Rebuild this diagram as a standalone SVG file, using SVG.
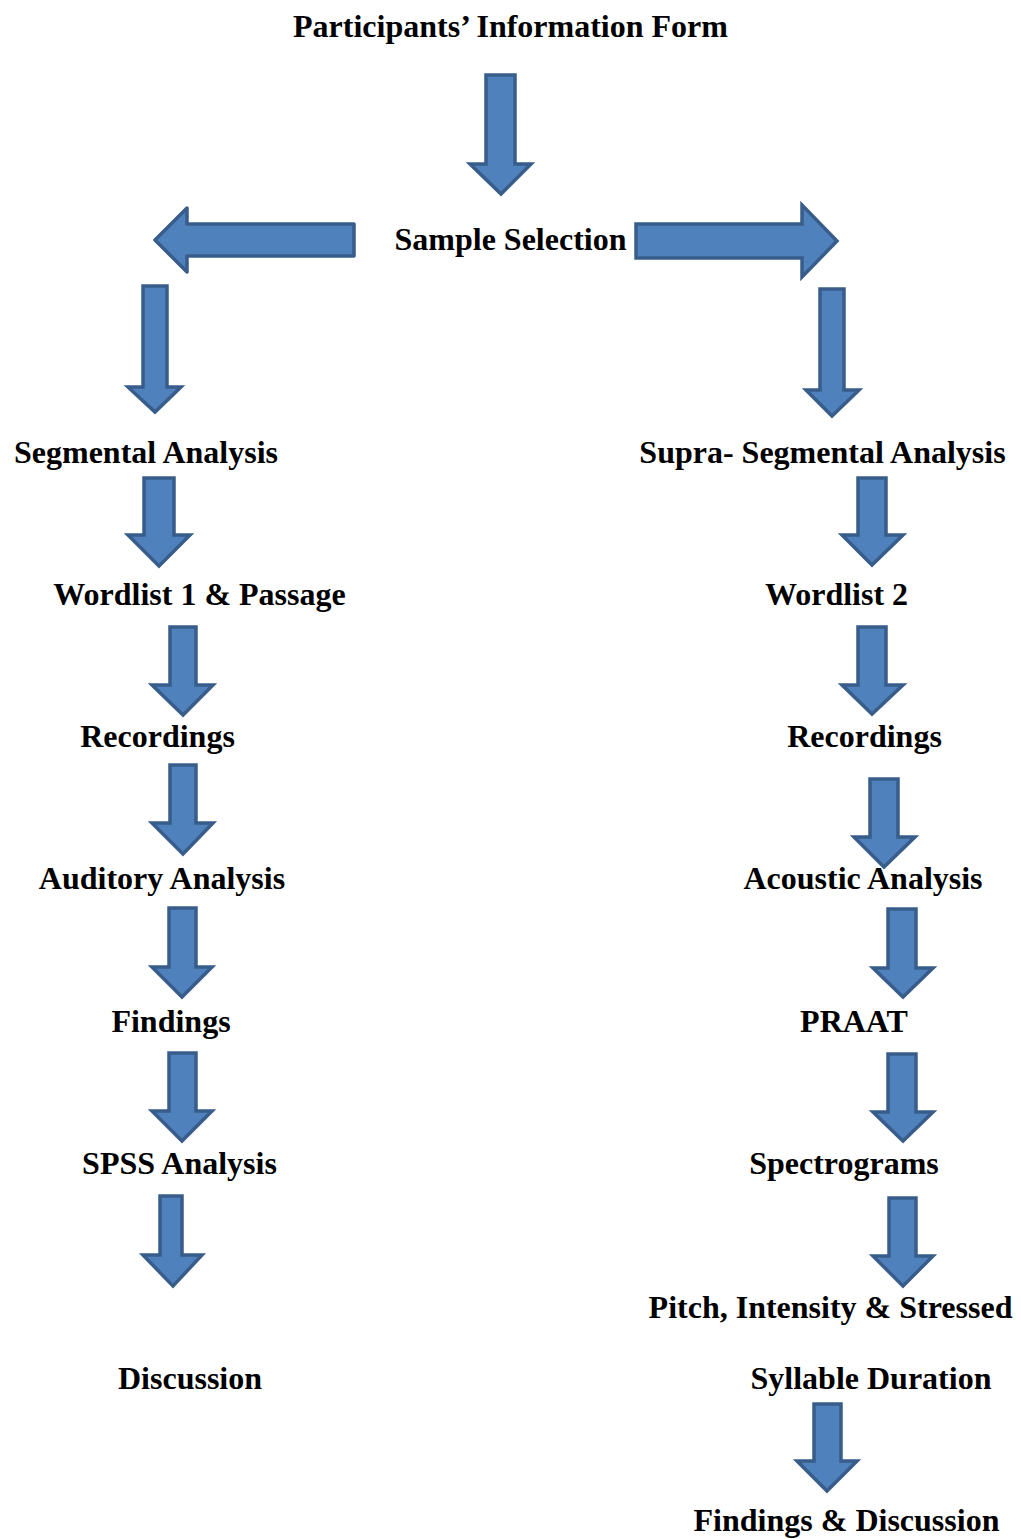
<svg xmlns="http://www.w3.org/2000/svg" width="1021" height="1539" viewBox="0 0 1021 1539">
<style>
.t{font-family:"Liberation Serif","Times New Roman",serif;font-weight:bold;font-size:32px;fill:#000;text-anchor:middle}
.a{fill:#4F81BD;stroke:#385D8A;stroke-width:3.5;stroke-linejoin:miter}
</style>
<rect width="1021" height="1539" fill="#fff"/>
<g id="connectors">
<polygon class="a" points="486,75 515,75 515,164 531,164 501,194 470,164 486,164"/>
<polygon class="a" points="354,224 187,224 187,208 155,240 187,272 187,256 354,256" style="stroke-linejoin:round"/>
<polygon class="a" points="636,224 802,224 802,205 837,241 802,277 802,258 636,258"/>
<polygon class="a" points="143,286 167,286 167,387 181,387 155,412 128,387 143,387"/>
<polygon class="a" points="144,478 174,478 174,535 190,535 159,566 128,535 144,535"/>
<polygon class="a" points="170,627 196,627 196,685 213,685 183,715 152,685 170,685"/>
<polygon class="a" points="170,765 196,765 196,823 213,823 183,854 152,823 170,823"/>
<polygon class="a" points="169,908 196,908 196,967 212,967 182,997 152,967 169,967"/>
<polygon class="a" points="169,1053 196,1053 196,1111 212,1111 182,1141 152,1111 169,1111"/>
<polygon class="a" points="160,1196 182,1196 182,1255 202,1255 173,1286 143,1255 160,1255"/>
<polygon class="a" points="820,289 844,289 844,390 859,390 832,416 806,390 820,390"/>
<polygon class="a" points="858,478 886,478 886,535 903,535 872,565 842,535 858,535"/>
<polygon class="a" points="858,627 886,627 886,685 903,685 872,714 842,685 858,685"/>
<polygon class="a" points="870,779 898,779 898,837 915,837 884,867 854,837 870,837"/>
<polygon class="a" points="888,909 916,909 916,968 933,968 903,997 873,968 888,968"/>
<polygon class="a" points="888,1054 916,1054 916,1112 933,1112 903,1141 873,1112 888,1112"/>
<polygon class="a" points="889,1198 916,1198 916,1256 933,1256 903,1286 873,1256 889,1256"/>
<polygon class="a" points="814,1404 841,1404 841,1461 857,1461 827,1491 797,1461 814,1461"/>
</g>
<g id="n-participants"><text class="t" x="510.5" y="37">Participants’ Information Form</text></g>
<g id="n-sample"><text class="t" x="510.5" y="250">Sample Selection</text></g>
<g id="n-segmental"><text class="t" x="146" y="463">Segmental Analysis</text></g>
<g id="n-supra"><text class="t" x="822.5" y="463">Supra- Segmental Analysis</text></g>
<g id="n-wordlist1"><text class="t" x="199.5" y="605">Wordlist 1 &amp; Passage</text></g>
<g id="n-wordlist2"><text class="t" x="836.5" y="605">Wordlist 2</text></g>
<g id="n-recordings-l"><text class="t" x="157.5" y="747">Recordings</text></g>
<g id="n-recordings-r"><text class="t" x="864.5" y="747">Recordings</text></g>
<g id="n-auditory"><text class="t" x="162" y="889">Auditory Analysis</text></g>
<g id="n-acoustic"><text class="t" x="863" y="889">Acoustic Analysis</text></g>
<g id="n-findings"><text class="t" x="171" y="1032">Findings</text></g>
<g id="n-praat"><text class="t" x="854" y="1032">PRAAT</text></g>
<g id="n-spss"><text class="t" x="179.5" y="1174">SPSS Analysis</text></g>
<g id="n-spectrograms"><text class="t" x="844" y="1174">Spectrograms</text></g>
<g id="n-pitch"><text class="t" x="830.5" y="1318">Pitch, Intensity &amp; Stressed</text></g>
<g id="n-discussion"><text class="t" x="190" y="1389">Discussion</text></g>
<g id="n-syllable"><text class="t" x="871" y="1389">Syllable Duration</text></g>
<g id="n-findings-discussion"><text class="t" x="846.5" y="1531">Findings &amp; Discussion</text></g>
</svg>
